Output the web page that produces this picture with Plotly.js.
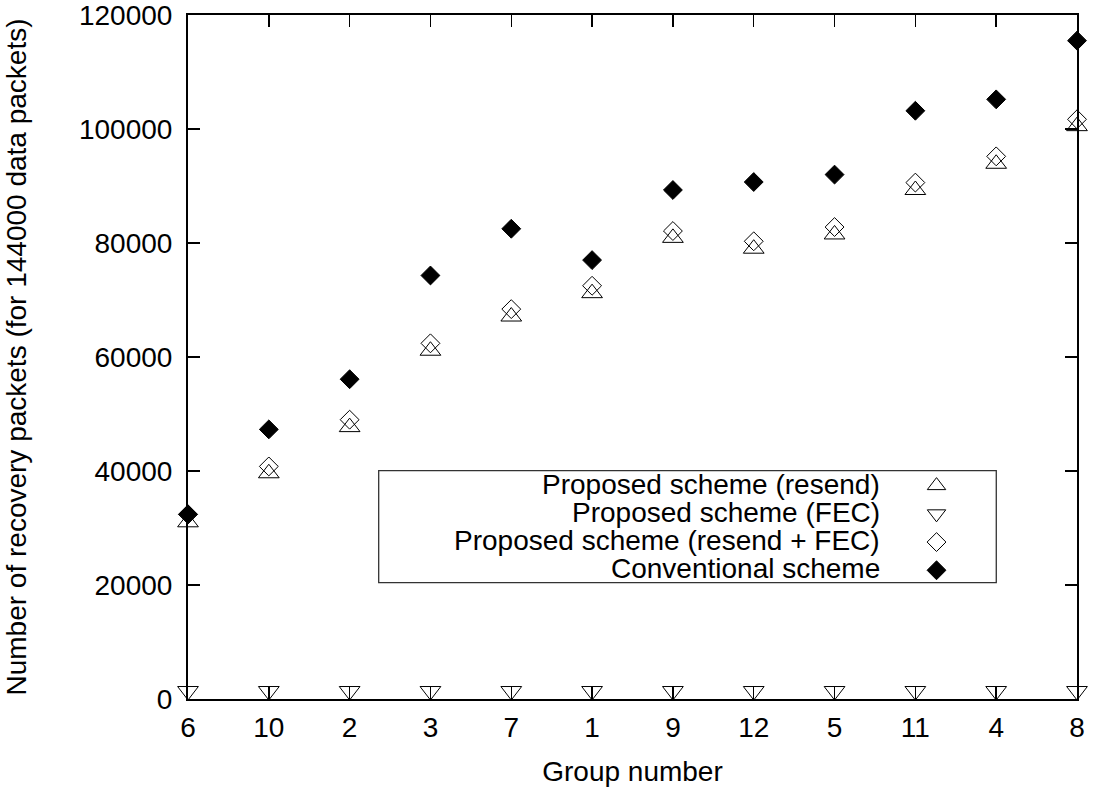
<!DOCTYPE html>
<html>
<head>
<meta charset="utf-8">
<script src="https://cdn.plot.ly/plotly-3.0.1.min.js"></script>
<style>
  html, body { margin: 0; padding: 0; background: #fff; }
  #chart { width: 1094px; height: 787px; }
</style>
</head>
<body>
<div id="chart"></div>
<script>
// ---- data ----
const groups = ['6', '10', '2', '3', '7', '1', '9', '12', '5', '11', '4', '8'];
const resend = [31000, 39600, 47700, 61100, 67100, 71200, 80900, 79000, 81500, 89300, 93900, 100500];
const fec = [1400, 1400, 1400, 1400, 1400, 1400, 1400, 1400, 1400, 1400, 1400, 1400];
const resendFec = [32400, 40800, 49000, 62400, 68400, 72500, 82100, 80300, 82800, 90600, 95200, 101700];
const conventional = [32400, 47300, 56100, 74300, 82500, 77000, 89300, 90700, 92000, 103200, 105200, 115500];
const seriesNames = ['Proposed scheme (resend)', 'Proposed scheme (FEC)', 'Proposed scheme (resend + FEC)', 'Conventional scheme'];
const yTicks = [0, 20000, 40000, 60000, 80000, 100000, 120000];

const FONT = 'Liberation Sans, Arial, sans-serif';
const FS = 28;

function tr(y, symbol, size, name) {
  return {
    type: 'scatter', mode: 'markers', x: groups, y: y,
    name: '', hovertext: name, cliponaxis: false,
    marker: { symbol: symbol, size: size, color: '#000', line: { color: '#000', width: 1 } }
  };
}

const data = [
  tr(resend, 'triangle-up-open', 18, seriesNames[0]),
  tr(fec, 'triangle-down-open', 18, seriesNames[1]),
  tr(resendFec, 'diamond-open', 14.5, seriesNames[2]),
  tr(conventional, 'diamond', 14.5, seriesNames[3])
];

// custom gnuplot-style key: right-aligned text, symbol on the right
const rowY = [0.3139, 0.2724, 0.2310, 0.1905];
const annotations = seriesNames.map((n, i) => ({
  xref: 'paper', yref: 'paper', x: 0.7803, y: rowY[i],
  xanchor: 'right', yanchor: 'middle', showarrow: false,
  text: n, font: { family: FONT, size: FS, color: '#000' }
}));

const layout = {
  width: 1094, height: 787,
  paper_bgcolor: '#fff', plot_bgcolor: '#fff',
  margin: { l: 188, r: 17, t: 15, b: 88 },
  font: { family: FONT, size: FS, color: '#000' },
  showlegend: true,
  legend: {
    x: 0.8448, y: 0.3139 + 0.026, xanchor: 'center', yanchor: 'top',
    bgcolor: 'rgba(0,0,0,0)', borderwidth: 0,
    font: { family: FONT, size: 19.4, color: '#000' },
    itemwidth: 30
  },
  xaxis: {
    type: 'category', range: [0, 11],
    showline: true, linecolor: '#000', linewidth: 2, mirror: 'allticks',
    ticks: 'inside', ticklen: 12, tickwidth: 1.5, tickcolor: '#000',
    showgrid: false, zeroline: false, ticklabelstandoff: 2,
    ticklabeloverflow: 'allow',
    tickfont: { family: FONT, size: FS, color: '#000' },
    title: { text: 'Group number', standoff: 22, font: { family: FONT, size: FS, color: '#000' } },
    automargin: false
  },
  yaxis: {
    range: [0, 120000], tickvals: yTicks, ticktext: yTicks.map(String),
    showline: true, linecolor: '#000', linewidth: 2, mirror: 'allticks',
    ticks: 'inside', ticklen: 12, tickwidth: 1.5, tickcolor: '#000',
    showgrid: false, zeroline: false, ticklabelstandoff: 8,
    ticklabeloverflow: 'allow',
    tickfont: { family: FONT, size: FS, color: '#000' },
    title: { text: 'Number of recovery packets (for 144000 data packets)', standoff: 44, font: { family: FONT, size: FS, color: '#000' } },
    automargin: false
  },
  shapes: [{
    type: 'rect', xref: 'paper', yref: 'paper',
    x0: 0.2145, x1: 0.9092, y0: 0.170, y1: 0.3338,
    line: { color: '#333', width: 1.3 }, fillcolor: 'rgba(0,0,0,0)', layer: 'below'
  }],
  annotations: annotations
};

Plotly.newPlot('chart', data, layout, { displayModeBar: false, staticPlot: true });
</script>
</body>
</html>
